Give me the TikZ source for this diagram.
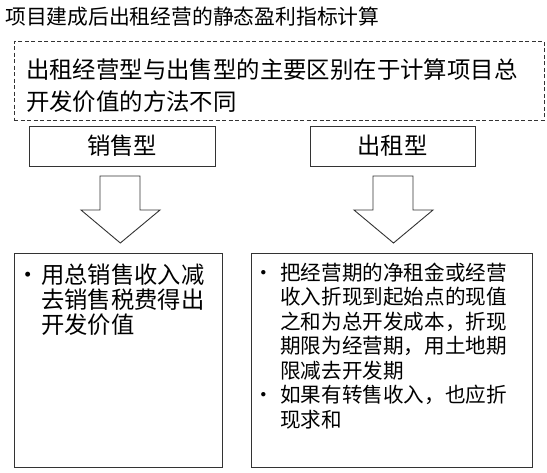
\documentclass[tikz,border=0pt]{standalone}
\usepackage{fontspec}
\setmainfont{Noto Sans CJK SC}
\newcommand{\ftitle}{\fontsize{20.8}{25}\selectfont}
\newcommand{\fnote}{\fontsize{23.4}{28}\selectfont}
\newcommand{\fhead}{\fontsize{23.3}{27}\selectfont}
\newcommand{\fleft}{\fontsize{23.3}{27}\selectfont}
\newcommand{\fright}{\fontsize{20.6}{24}\selectfont}
\begin{document}
\begin{tikzpicture}[x=1pt,y=-1pt,
  frame/.style={draw=black!80,line width=0.9pt,inner sep=0pt,fill=white},
  dashframe/.style={frame,dash pattern=on 4pt off 2.5pt},
  txt/.style={inner sep=0pt,anchor=base west},
  bul/.style={inner sep=0pt,anchor=base},
  blk/.style={draw=black!80,line width=0.9pt,fill=white,line join=miter}]
\useasboundingbox[fill=white] (0,0) rectangle (547,472);
% title
\node[txt,font=\ftitle] (title) at (5,24.7) {项目建成后出租经营的静态盈利指标计算};
% dashed note box
\node[dashframe,minimum width=530pt,minimum height=79pt] (note) at (279,80.5) {};
\node[txt,font=\fnote] (note1) at (26,78.5) {出租经营型与出售型的主要区别在于计算项目总};
\node[txt,font=\fnote] (note2) at (26,110.5) {开发价值的方法不同};
% heading boxes
\node[frame,minimum width=186pt,minimum height=40pt,font=\fhead] (sale) at (122,146) {销售型};
\node[frame,minimum width=165pt,minimum height=40pt,font=\fhead] (rent) at (392.5,146) {出租型};
% block arrows
\draw[blk] (100,176) -- (140,176) -- (140,210) -- (160,210) -- (120.3,243) -- (81,210) -- (100,210) -- cycle;
\draw[blk] (373,176) -- (413,176) -- (413,210) -- (433,210) -- (393.5,243) -- (354,210) -- (373,210) -- cycle;
% content boxes
\node[frame,minimum width=208pt,minimum height=214pt] (salebox) at (118,360) {};
\node[frame,minimum width=281pt,minimum height=214pt] (rentbox) at (391.5,360) {};
% left content
\node[bul,font=\fleft] (lb1) at (28,283.3) {•};
\node[txt,font=\fleft] (l1) at (41,283.3) {用总销售收入减};
\node[txt,font=\fleft] (l2) at (41,308.3) {去销售税费得出};
\node[txt,font=\fleft] (l3) at (41,333.3) {开发价值};
% right content
\node[bul,font=\fright] (rb1) at (264,280.4) {•};
\node[txt,font=\fright] (r1) at (280,280.4) {把经营期的净租金或经营};
\node[txt,font=\fright] (r2) at (280,304.9) {收入折现到起始点的现值};
\node[txt,font=\fright] (r3) at (280,329.4) {之和为总开发成本，折现};
\node[txt,font=\fright] (r4) at (280,353.9) {期限为经营期，用土地期};
\node[txt,font=\fright] (r5) at (280,378.4) {限减去开发期};
\node[bul,font=\fright] (rb2) at (264,402.9) {•};
\node[txt,font=\fright] (r6) at (280,402.9) {如果有转售收入，也应折};
\node[txt,font=\fright] (r7) at (280,427.4) {现求和};
\end{tikzpicture}
\end{document}
